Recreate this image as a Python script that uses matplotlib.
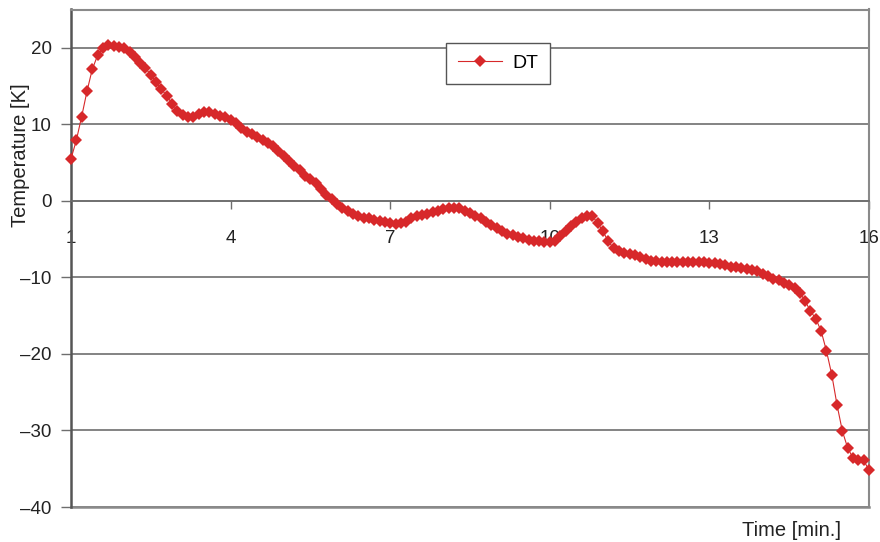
import numpy as np
import matplotlib
matplotlib.use("Agg")
import matplotlib.pyplot as plt

plt.rcParams['font.family'] = ['Liberation Sans', 'DejaVu Sans']

# Time in minutes (sampled every 0.1 min from 1 to 16)
time_min = np.round(np.arange(1.0, 16.0001, 0.1), 1)

dt_values = [
    5.5, 7.9, 11.0, 14.3, 17.2, 19.0, 20.0, 20.3, 20.2, 20.1,
    20.0, 19.4, 18.8, 18.0, 17.3, 16.5, 15.5, 14.6, 13.7, 12.7,
    11.8, 11.2, 11.0, 11.0, 11.3, 11.6, 11.6, 11.3, 11.1, 10.9,
    10.6, 10.2, 9.5, 9.0, 8.7, 8.3, 8.0, 7.6, 7.2, 6.5,
    5.9, 5.2, 4.5, 4.0, 3.3, 2.9, 2.3, 1.6, 0.8, 0.2,
    -0.4, -0.9, -1.3, -1.7, -2.0, -2.2, -2.3, -2.5, -2.6, -2.8,
    -2.9, -3.0, -2.9, -2.7, -2.3, -2.0, -1.9, -1.7, -1.5, -1.3,
    -1.1, -1.0, -0.9, -1.0, -1.3, -1.6, -2.0, -2.3, -2.7, -3.1,
    -3.5, -3.9, -4.3, -4.5, -4.7, -4.9, -5.1, -5.3, -5.3, -5.4,
    -5.4, -5.2, -4.6, -4.0, -3.3, -2.7, -2.3, -2.0, -2.0, -2.9,
    -4.0, -5.3, -6.2, -6.6, -6.8, -7.0, -7.1, -7.4, -7.6, -7.8,
    -7.9, -8.0, -8.0, -8.0, -8.0, -8.0, -8.0, -8.0, -8.0, -8.0,
    -8.1, -8.1, -8.2, -8.4, -8.6, -8.7, -8.8, -8.9, -9.0, -9.2,
    -9.5, -9.8, -10.2, -10.4, -10.7, -11.0, -11.4, -12.0, -13.1, -14.4,
    -15.4, -17.0, -19.6, -22.7, -26.7, -30.1, -32.3, -33.6, -33.8, -33.9,
    -35.2,
]

x_ticks = [1, 4, 7, 10, 13, 16]
y_ticks = [-40, -30, -20, -10, 0, 10, 20]

red = '#d7282a'
grid_col = '#6e6e6e'
frame_col = '#8a8a8a'
text_col = '#222222'

fig = plt.figure(figsize=(8.8, 5.42), dpi=100)
ax = fig.add_axes([71 / 880, 1 - 507 / 542, (869 - 71) / 880, (507 - 9.5) / 542])

ax.set_xlim(1, 16)
ax.set_ylim(-40, 25)

for y in y_ticks:
    ax.axhline(y, color=grid_col, lw=1.2, zorder=1)

ax.plot(time_min, dt_values, color=red, lw=0.8, marker='D', markersize=6,
        markeredgewidth=0, markerfacecolor=red, label='DT', zorder=3, clip_on=False)

# spines
ax.spines['left'].set_color('#555555')
ax.spines['left'].set_linewidth(1.8)
ax.spines['top'].set_color(frame_col)
ax.spines['top'].set_linewidth(1.5)
ax.spines['right'].set_color(frame_col)
ax.spines['right'].set_linewidth(1.5)
ax.spines['bottom'].set_position(('data', 0))
ax.spines['bottom'].set_color(grid_col)
ax.spines['bottom'].set_linewidth(1.2)
ax.axhline(-40, color=frame_col, lw=1.8, zorder=2, clip_on=False)

ax.set_xticks(x_ticks)
ax.set_xticklabels([str(t) for t in x_ticks])
ax.set_yticks(y_ticks)
ax.set_yticklabels([str(t).replace('-', '\u2013') for t in y_ticks])
ax.tick_params(axis='x', direction='out', length=6, width=1, color=grid_col,
               pad=15, labelsize=13.5, labelcolor=text_col)
ax.tick_params(axis='y', direction='out', length=7, width=1, color=grid_col,
               pad=7, labelsize=13.5, labelcolor=text_col)

fig.text(20 / 880, 1 - 155 / 542, 'Temperature [K]', rotation=90, ha='center',
         va='center', fontsize=14.5, color=text_col)
fig.text(791 / 880, 1 - 530 / 542, 'Time [min.]', ha='center', va='center',
         fontsize=14.5, color=text_col)

leg = ax.legend(loc='upper left', bbox_to_anchor=(446 / 880, 1 - 43 / 542),
                bbox_transform=fig.transFigure, borderaxespad=0, fancybox=False,
                framealpha=1, edgecolor='#555555', fontsize=14,
                handlelength=2.3, borderpad=0.6, handletextpad=0.5)
leg.get_frame().set_linewidth(1.0)

fig.savefig('out.png', dpi=100)
